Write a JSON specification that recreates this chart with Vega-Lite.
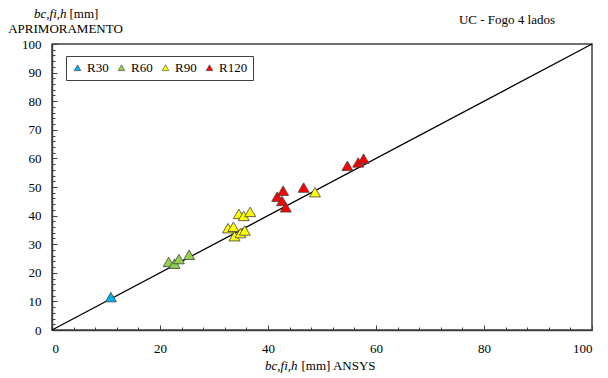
{
  "$schema": "https://vega.github.io/schema/vega-lite/v6.json",
  "width": 540,
  "height": 286,
  "autosize": "none",
  "padding": {"left": 52, "top": 44, "right": 16, "bottom": 48},
  "background": "white",
  "config": {
    "font": "Times New Roman, Liberation Serif, serif",
    "view": {"stroke": "#404040", "strokeWidth": 1.5},
    "axis": {"grid": false, "labelFont": "Times New Roman, Liberation Serif, serif", "titleFont": "Times New Roman, Liberation Serif, serif", "labelFontSize": 13, "titleFontSize": 13, "labelColor": "black", "titleColor": "black", "titleFontWeight": "normal", "tickColor": "#404040", "domainColor": "#404040"},
    "legend": {"labelFont": "Times New Roman, Liberation Serif, serif"},
    "title": {"font": "Times New Roman, Liberation Serif, serif"}
  },
  "title": {"text": "UC - Fogo 4 lados", "anchor": "end", "frame": "group", "dx": -37, "offset": -20, "fontSize": 13, "fontWeight": "normal", "color": "black"},
  "datasets": {
    "diag": [{"x": 0, "y": 0}, {"x": 100, "y": 100}],
    "pts": [
      {"ansys": 10.9, "aprim": 11.5, "serie": "R30"},
      {"ansys": 21.6, "aprim": 23.8, "serie": "R60"},
      {"ansys": 22.7, "aprim": 23.2, "serie": "R60"},
      {"ansys": 23.5, "aprim": 24.8, "serie": "R60"},
      {"ansys": 25.4, "aprim": 26.3, "serie": "R60"},
      {"ansys": 32.6, "aprim": 35.6, "serie": "R90"},
      {"ansys": 33.6, "aprim": 36.1, "serie": "R90"},
      {"ansys": 33.8, "aprim": 32.8, "serie": "R90"},
      {"ansys": 34.9, "aprim": 33.9, "serie": "R90"},
      {"ansys": 35.7, "aprim": 34.8, "serie": "R90"},
      {"ansys": 34.6, "aprim": 40.6, "serie": "R90"},
      {"ansys": 35.5, "aprim": 39.9, "serie": "R90"},
      {"ansys": 36.7, "aprim": 41.3, "serie": "R90"},
      {"ansys": 48.7, "aprim": 48.2, "serie": "R90"},
      {"ansys": 41.7, "aprim": 46.6, "serie": "R120"},
      {"ansys": 42.8, "aprim": 48.7, "serie": "R120"},
      {"ansys": 42.6, "aprim": 45.1, "serie": "R120"},
      {"ansys": 43.3, "aprim": 42.9, "serie": "R120"},
      {"ansys": 46.6, "aprim": 49.8, "serie": "R120"},
      {"ansys": 54.7, "aprim": 57.4, "serie": "R120"},
      {"ansys": 56.7, "aprim": 58.6, "serie": "R120"},
      {"ansys": 57.7, "aprim": 59.9, "serie": "R120"}
    ]
  },
  "resolve": {"axis": {"x": "independent", "y": "independent"}},
  "layer": [
    {
      "data": {"name": "diag"},
      "mark": {"type": "line", "color": "black", "strokeWidth": 1.3},
      "encoding": {
        "x": {"field": "x", "type": "quantitative", "scale": {"domain": [0, 100], "nice": false},
          "axis": {"orient": "bottom", "values": [0,4,8,12,16,20,24,28,32,36,40,44,48,52,56,60,64,68,72,76,80,84,88,92,96,100], "labels": false, "domain": false, "tickSize": -3, "title": "bc,fi,h", "titleFont": "Times New Roman, Liberation Serif, serif", "titleFontStyle": "italic", "titleAlign": "right", "titleAnchor": null, "titleX": 245, "titleY": 39, "titleBaseline": "alphabetic"}},
        "y": {"field": "y", "type": "quantitative", "scale": {"domain": [0, 100], "nice": false},
          "axis": {"orient": "left", "values": [0,2,4,6,8,10,12,14,16,18,20,22,24,26,28,30,32,34,36,38,40,42,44,46,48,50,52,54,56,58,60,62,64,66,68,70,72,74,76,78,80,82,84,86,88,90,92,94,96,98,100], "labels": false, "domain": false, "tickSize": -3, "title": "bc,fi,h", "titleFont": "Times New Roman, Liberation Serif, serif", "titleFontStyle": "italic", "titleAngle": 0, "titleAlign": "right", "titleAnchor": null, "titleX": 14, "titleY": -27, "titleBaseline": "alphabetic"}}
      }
    },
    {
      "data": {"name": "diag"},
      "mark": {"type": "line", "color": "black", "strokeWidth": 1.5, "opacity": 0},
      "encoding": {
        "x": {"field": "x", "type": "quantitative", "axis": null},
        "y": {"field": "y", "type": "quantitative",
          "axis": {"orient": "left", "labels": false, "ticks": false, "domain": false, "title": "[mm]", "titleFont": "Times New Roman, Liberation Serif, serif", "titleAngle": 0, "titleAlign": "left", "titleAnchor": null, "titleX": 17, "titleY": -27, "titleBaseline": "alphabetic"}}
      }
    },
    {
      "data": {"name": "pts"},
      "mark": {"type": "point", "shape": "triangle-up", "filled": true, "size": 120, "stroke": "#404040", "strokeWidth": 0.8, "opacity": 1},
      "encoding": {
        "x": {"field": "ansys", "type": "quantitative",
          "axis": {"orient": "bottom", "values": [0,20,40,60,80,100], "tickSize": -5, "labelPadding": 17, "domainWidth": 1.5, "labelFont": "Times New Roman, Liberation Serif, serif", "titleFont": "Times New Roman, Liberation Serif, serif", "title": "[mm] ANSYS", "titleAlign": "left", "titleAnchor": null, "titleX": 249, "titleY": 39, "titleBaseline": "alphabetic"}},
        "y": {"field": "aprim", "type": "quantitative",
          "axis": {"orient": "left", "values": [0,10,20,30,40,50,60,70,80,90,100], "tickSize": -5, "labelPadding": 16, "domainWidth": 1.5, "labelFont": "Times New Roman, Liberation Serif, serif", "titleFont": "Times New Roman, Liberation Serif, serif", "title": "APRIMORAMENTO", "titleAngle": 0, "titleAlign": "center", "titleAnchor": null, "titleX": 13, "titleY": -12, "titleBaseline": "alphabetic"}},
        "fill": {"field": "serie", "type": "nominal",
          "scale": {"domain": ["R30", "R60", "R90", "R120"], "range": ["#00B0F0", "#92D050", "#FFFF00", "#FF0000"]},
          "legend": {"orient": "none", "legendX": 14, "legendY": 12, "direction": "horizontal", "title": null, "symbolType": "triangle-up", "symbolSize": 45, "symbolStrokeColor": "#404040", "symbolStrokeWidth": 0.6, "labelFont": "Times New Roman, Liberation Serif, serif", "labelFontSize": 13, "labelColor": "black", "strokeColor": "#404040", "padding": 5, "columnPadding": 6, "labelOffset": 3, "fillColor": "white"}}
      }
    }
  ]
}
